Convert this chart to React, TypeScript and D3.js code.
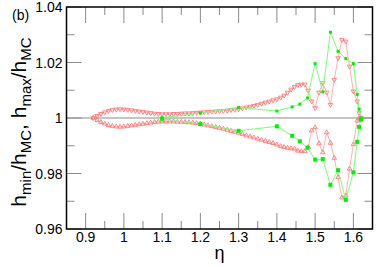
import React from 'react';
import * as d3 from 'd3';

// red series: h_max (down triangles) and h_min (up triangles)
const etaRed = [
  0.92, 0.93, 0.94, 0.95, 0.96, 0.97, 0.98, 0.99, 1.0, 1.01, 1.02, 1.03, 1.04, 1.05, 1.06, 1.07, 1.08, 1.09,
  1.1, 1.11, 1.12, 1.13, 1.14, 1.15, 1.16, 1.17, 1.18, 1.19, 1.2, 1.21, 1.22, 1.23, 1.24, 1.25, 1.26, 1.27,
  1.28, 1.29, 1.3, 1.31, 1.32, 1.33, 1.34, 1.35, 1.36, 1.37, 1.38, 1.39, 1.4, 1.41, 1.419, 1.428, 1.437,
  1.446, 1.455, 1.464, 1.473, 1.482, 1.491, 1.5, 1.51, 1.52, 1.53, 1.54, 1.55, 1.56, 1.57, 1.58, 1.59, 1.6,
  1.61, 1.615, 1.62,
];
const redMax = [
  1.0, 1.0008, 1.0015, 1.0021, 1.0026, 1.0029, 1.0031, 1.0032, 1.0031, 1.003, 1.0028, 1.0026, 1.0024, 1.0022,
  1.002, 1.0018, 1.0016, 1.0015, 1.0014, 1.0014, 1.0014, 1.0015, 1.0015, 1.0016, 1.0017, 1.0017, 1.0018,
  1.0019, 1.002, 1.0021, 1.0022, 1.0023, 1.0024, 1.0025, 1.0026, 1.0027, 1.0029, 1.003, 1.0032, 1.0035,
  1.0038, 1.0041, 1.0044, 1.0048, 1.0052, 1.0056, 1.006, 1.0064, 1.0068, 1.0074, 1.0081, 1.0092, 1.0103,
  1.0112, 1.0119, 1.0121, 1.0121, 1.0099, 1.006, 1.0036, 1.0092, 1.0126, 1.0092, 1.0048, 1.0138, 1.0216,
  1.0282, 1.0276, 1.0186, 1.0096, 1.006, 1.0018, 1.0,
];
const redMin = [
  1.0, 0.9992, 0.9985, 0.9979, 0.9974, 0.9971, 0.9969, 0.9968, 0.9969, 0.9971, 0.9973, 0.9975, 0.9977,
  0.9979, 0.9981, 0.9983, 0.9985, 0.9986, 0.9987, 0.9987, 0.9987, 0.9987, 0.9986, 0.9986, 0.9985, 0.9984,
  0.9983, 0.9981, 0.9979, 0.9976, 0.9973, 0.997, 0.9967, 0.9964, 0.9961, 0.9957, 0.9953, 0.995, 0.9946,
  0.9942, 0.9937, 0.9933, 0.9929, 0.9925, 0.9921, 0.9917, 0.9913, 0.9909, 0.9904, 0.9898, 0.9895, 0.9892,
  0.989, 0.9889, 0.9882, 0.988, 0.988, 0.9895, 0.9955, 0.9966, 0.9908, 0.9876, 0.9948, 0.991, 0.9856,
  0.9786, 0.9713, 0.972, 0.9817, 0.9905, 0.999, 0.9998, 1.0,
];

// green series: squares
const etaGreen = [1.1, 1.2, 1.3, 1.4, 1.44, 1.46, 1.48, 1.5, 1.52, 1.54, 1.56, 1.58, 1.6, 1.61, 1.615, 1.62];
const greenMax = [1.0001, 1.0018, 1.0038, 1.0025, 1.004, 1.005, 1.0072, 1.0196, 1.0094, 1.0309, 1.024, 1.0214, 1.0196, 1.0085, 1.0032, 1.0];
const greenMin = [0.9997, 0.9978, 0.9954, 0.997, 0.9936, 0.9916, 0.9893, 0.985, 0.9852, 0.9759, 0.9812, 0.9705, 0.9804, 0.9914, 0.9968, 0.9994];

const xMajor = [0.9, 1.0, 1.1, 1.2, 1.3, 1.4, 1.5, 1.6];
const xMinor = [0.95, 1.05, 1.15, 1.25, 1.35, 1.45, 1.55];
const yMajor = [0.96, 0.98, 1.0, 1.02, 1.04];
const yMinor = [0.97, 0.99, 1.01, 1.03];
const yTickLabels = ['0.96', '0.98', '1', '1.02', '1.04'];

const W = 382;
const H = 267;
const margin = { left: 66.5, right: 9.5, top: 7, bottom: 38 };

const App: React.FC = () => {
  const x = d3.scaleLinear().domain([0.85, 1.65]).range([margin.left, W - margin.right]);
  const y = d3.scaleLinear().domain([0.96, 1.04]).range([H - margin.bottom, margin.top]);
  const [x0, x1] = x.range();
  const [y0, y1] = y.range();

  const line = d3.line<[number, number]>().x(d => x(d[0])).y(d => y(d[1]));
  const tri = d3.symbol(d3.symbolTriangle, 9)() || '';
  const font = 'Liberation Sans, Arial, Helvetica, sans-serif';

  const pairs = (xs: number[], ys: number[]) => xs.map((v, i) => [v, ys[i]] as [number, number]);

  return (
    <div style={{ position: 'absolute', left: 0, top: 0 }}>
      <svg width={W} height={H} style={{ display: 'block' }} fontFamily={font}>
        <rect width={W} height={H} fill="white" />
        {/* ticks */}
        <g stroke="#8a8a8a" strokeWidth={1}>
          {xMajor.map(t => (
            <g key={'xm' + t}>
              <line x1={x(t)} x2={x(t)} y1={y0} y2={y0 - 16} />
              <line x1={x(t)} x2={x(t)} y1={y1} y2={y1 + 16} />
            </g>
          ))}
          {xMinor.map(t => (
            <g key={'xn' + t}>
              <line x1={x(t)} x2={x(t)} y1={y0} y2={y0 - 8} />
              <line x1={x(t)} x2={x(t)} y1={y1} y2={y1 + 8} />
            </g>
          ))}
          {yMajor.map(t => (
            <g key={'ym' + t}>
              <line x1={x0} x2={x0 + 15} y1={y(t)} y2={y(t)} />
              <line x1={x1} x2={x1 - 15} y1={y(t)} y2={y(t)} />
            </g>
          ))}
          {yMinor.map(t => (
            <g key={'yn' + t}>
              <line x1={x0} x2={x0 + 8} y1={y(t)} y2={y(t)} />
              <line x1={x1} x2={x1 - 8} y1={y(t)} y2={y(t)} />
            </g>
          ))}
          <line x1={x0} x2={x1} y1={y(1)} y2={y(1)} />
        </g>

        {/* red series */}
        <g>
          <path d={line(pairs(etaRed, redMax)) || ''} fill="none" stroke="#ffb0b0" strokeWidth={1} />
          <path d={line(pairs(etaRed, redMin)) || ''} fill="none" stroke="#ffb0b0" strokeWidth={1} />
          {etaRed.map((e, i) => (
            <path key={'rM' + i} d={tri} transform={`translate(${x(e)},${y(redMax[i])}) rotate(180)`}
              fill="none" stroke="#ff7a7a" strokeWidth={0.9} />
          ))}
          {etaRed.map((e, i) => (
            <path key={'rm' + i} d={tri} transform={`translate(${x(e)},${y(redMin[i])})`}
              fill="none" stroke="#ff7a7a" strokeWidth={0.9} />
          ))}
        </g>

        {/* green series */}
        <g>
          <path d={line(pairs(etaGreen, greenMax)) || ''} fill="none" stroke="#7dfa7d" strokeWidth={1} />
          <path d={line(pairs(etaGreen, greenMin)) || ''} fill="none" stroke="#7dfa7d" strokeWidth={1} />
          {etaGreen.map((e, i) => (
            <rect key={'gM' + i} x={x(e) - 1.5} y={y(greenMax[i]) - 1.5} width={3} height={3} fill="#00f000" />
          ))}
          {etaGreen.map((e, i) => (
            <rect key={'gm' + i} x={x(e) - 2} y={y(greenMin[i]) - 2} width={4} height={4} fill="#00f000" />
          ))}
        </g>

        {/* frame */}
        <rect x={x0} y={y1} width={x1 - x0} height={y0 - y1} fill="none" stroke="#000" strokeWidth={1.5} />

        {/* tick labels */}
        <g fontSize={14} fill="#000">
          {xMajor.map(t => (
            <text key={'xl' + t} x={x(t)} y={y0 + 13} textAnchor="middle">{d3.format('')(+t.toFixed(1))}</text>
          ))}
          {yMajor.map((t, i) => (
            <text key={'yl' + t} x={x0 - 4} y={y(t) + 5} textAnchor="end">{yTickLabels[i]}</text>
          ))}
        </g>

        {/* axis titles */}
        <text x={(x0 + x1) / 2} y={259} textAnchor="middle" fontSize={18}>η</text>
        <text transform="translate(26,122) rotate(-90)" textAnchor="middle" fontSize={21}>
          h<tspan fontSize={15} dy={5}>min</tspan>
          <tspan dy={-5}>/h</tspan>
          <tspan fontSize={15} dy={5}>MC</tspan>
          <tspan dy={-5}>, h</tspan>
          <tspan fontSize={15} dy={5}>max</tspan>
          <tspan dy={-5}>/h</tspan>
          <tspan fontSize={15} dy={5}>MC</tspan>
        </text>
        <text x={12} y={20} fontSize={14}>(b)</text>
      </svg>
    </div>
  );
};

export default App;
